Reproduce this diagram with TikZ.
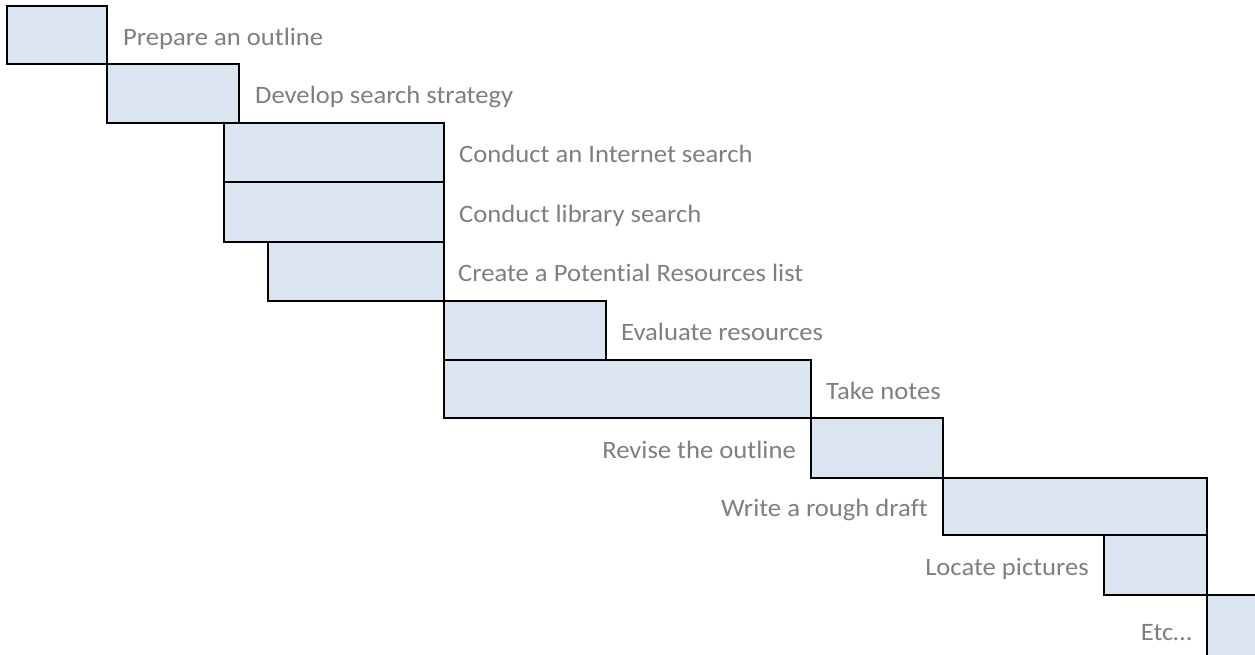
\documentclass[tikz,border=0pt]{standalone}
\usepackage{fontspec}
\setmainfont[FakeStretch=1.065,Ligatures={NoCommon,NoRare,NoDiscretionary}]{Carlito}
\definecolor{boxfill}{HTML}{DBE5F1}
\definecolor{lblgray}{HTML}{7F7F7F}
\tikzset{
  task/.style={draw=black, line width=2pt, fill=boxfill, inner sep=0pt, outer sep=0pt, anchor=north west},
  lbl/.style={text=lblgray, inner sep=0pt, font=\fontsize{25}{30}\selectfont},
  lblr/.style={lbl, anchor=base west},
  lbll/.style={lbl, anchor=base east}
}
\begin{document}
\begin{tikzpicture}[x=1pt,y=-1pt]
\clip (0,0) rectangle (1255,654);
\fill[white] (0,0) rectangle (1255,654);
\node[task, minimum width=100pt, minimum height=58pt] (b1) at (7,6) {};
\node[task, minimum width=132pt, minimum height=59pt] (b2) at (107,64) {};
\node[task, minimum width=220pt, minimum height=59pt] (b3) at (224,123) {};
\node[task, minimum width=220pt, minimum height=60pt] (b4) at (224,182) {};
\node[task, minimum width=176pt, minimum height=59pt] (b5) at (268,242) {};
\node[task, minimum width=162pt, minimum height=59pt] (b6) at (444,301) {};
\node[task, minimum width=367pt, minimum height=58pt] (b7) at (444,360) {};
\node[task, minimum width=132pt, minimum height=60pt] (b8) at (811,418) {};
\node[task, minimum width=264pt, minimum height=57pt] (b9) at (943,478) {};
\node[task, minimum width=103pt, minimum height=60pt] (b10) at (1104,535) {};
\node[task, minimum width=100pt, minimum height=70pt] (b11) at (1207,595) {};

\node[lblr] (t1) at ([xshift=16pt,yshift=-10pt]b1.east) {Prepare an outline};
\node[lblr] (t2) at ([xshift=16pt,yshift=-10pt]b2.east) {Develop search strategy};
\node[lblr] (t3) at ([xshift=15pt,yshift=-10pt]b3.east) {Conduct an Internet search};
\node[lblr] (t4) at ([xshift=15pt,yshift=-10pt]b4.east) {Conduct library search};
\node[lblr] (t5) at ([xshift=14pt,yshift=-10pt]b5.east) {Create a Potential Resources list};
\node[lblr] (t6) at ([xshift=15pt,yshift=-10pt]b6.east) {Evaluate resources};
\node[lblr] (t7) at ([xshift=15pt,yshift=-10pt]b7.east) {Take notes};
\node[lbll] (t8) at ([xshift=-15pt,yshift=-10pt]b8.west) {Revise the outline};
\node[lbll] (t9) at ([xshift=-15pt,yshift=-10pt]b9.west) {Write a rough draft};
\node[lbll] (t10) at ([xshift=-15pt,yshift=-10pt]b10.west) {Locate pictures};
\node[lbll] (t11) at ([xshift=-15pt,yshift=-10pt]b11.west) {Etc…};
\end{tikzpicture}
\end{document}
